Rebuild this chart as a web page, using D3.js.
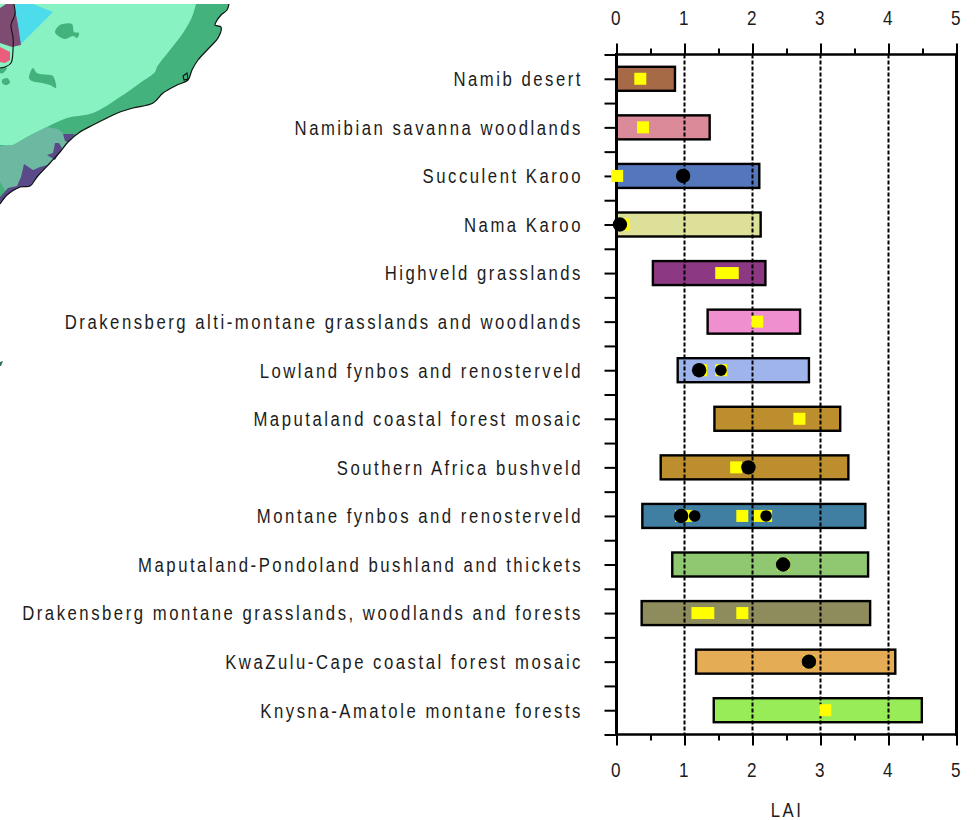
<!DOCTYPE html>
<html>
<head>
<meta charset="utf-8">
<script src="https://cdn.jsdelivr.net/npm/d3@7"></script>
<style>
  html, body { margin: 0; padding: 0; background: #fff; }
  svg { display: block; }
  text { font-family: "Liberation Sans", Arial, sans-serif; fill: #1c1c1c; }
</style>
</head>
<body>
<div id="chart"></div>
<script>
const categories = ["Namib desert", "Namibian savanna woodlands", "Succulent Karoo", "Nama Karoo",
  "Highveld grasslands", "Drakensberg alti-montane grasslands and woodlands", "Lowland fynbos and renosterveld",
  "Maputaland coastal forest mosaic", "Southern Africa bushveld", "Montane fynbos and renosterveld",
  "Maputaland-Pondoland bushland and thickets", "Drakensberg montane grasslands, woodlands and forests",
  "KwaZulu-Cape coastal forest mosaic", "Knysna-Amatole montane forests"];
const laiLow = [0, 0, 0, 0, 0.535, 1.34, 0.90, 1.44, 0.65, 0.38, 0.82, 0.37, 1.17, 1.43];
const laiHigh = [0.86, 1.37, 2.10, 2.12, 2.19, 2.70, 2.83, 3.29, 3.41, 3.66, 3.70, 3.73, 4.10, 4.49];
const barColors = ["#a66a46", "#da8a98", "#5477bc", "#dce098", "#8c3883", "#f08fd0", "#a0b4ec",
  "#bc8e2e", "#bc8e2e", "#407ea2", "#90c872", "#8e8c5c", "#e4ac54", "#98ec58"];

// [category, LAI]
const squares = [[0, 0.35], [1, 0.39], [2, 0.01], [3, 0.11], [4, 1.54], [4, 1.71], [5, 2.07], [6, 1.245], [6, 1.54],
  [7, 2.69], [8, 1.76], [9, 0.95], [9, 1.02], [9, 1.85], [9, 2.11], [9, 2.2], [10, 2.45], [11, 1.19], [11, 1.35],
  [11, 1.85], [12, 2.83], [13, 3.07]];
const bigDots = [[2, 0.98], [3, 0.05], [6, 1.215], [8, 1.94], [9, 0.95], [10, 2.45], [12, 2.83]];
const smallDots = [[6, 1.535], [9, 1.15], [9, 2.2]];

const xTicks = [0, 1, 2, 3, 4, 5];
const xMinorTicks = [0.5, 1.5, 2.5, 3.5, 4.5];
const gridTicks = [1, 2, 3, 4];

// map fragment in the top left corner
const coast = [[229,4],[227,10],[221,15],[216,22],[215,25],[221,27],[218,38],[210,47],[198,60],[192,70],[188,80],[177,85],
  [163,93],[153,103],[133,108],[120,112],[107,118],[93,125],[80,132],[68,142],[60,152],[50,163],[37,177],[30,186],
  [20,187],[7,195],[0,204]];
const mintEdge = [[196,4],[192,17],[183,33],[170,50],[157,67],[155,72],[140,83],[120,97],[93,113],[67,118],[47,127],
  [27,137],[13,145],[0,145]];
const tealArea = [[0,146],[13,145],[27,137],[47,127],[58,129],[65,135],[68,142],[60,152],[50,163],[37,177],[30,186],
  [20,187],[7,193],[5,190],[0,182]];
const purpleA = [[63,134],[75,134],[68,142],[65,141]];
const purpleB = [[55,143],[59,143],[62,148],[55,160],[47,155],[53,153]];
const purpleC = [[24,164],[33,170],[40,167],[48,165],[37,177],[30,186],[20,187],[7,195],[0,204],[0,197],[8,188],
  [17,186],[21,177]];
const cyanArea = [[15,4],[33,4],[53,12],[20,45],[17,23]];
const maroonArea = [[0,8],[6,4],[14,4],[18,25],[21,45],[12,47],[0,43]];
const pinkArea = [[0,47],[10,52],[10,60],[5,63],[0,62]];
const blobs = [
  [[55,32],[60,25],[72,24],[74,32],[79,33],[77,38],[73,36],[65,39],[57,35]],
  [[29,78],[33,68],[37,73],[50,75],[53,76],[56,88],[50,85],[42,83],[32,81]],
  [[2,80],[7,78],[10,82],[7,85],[3,84]],
  [[0,68],[7,68],[3,73],[0,73]]
];
const border = [[14,4],[15,14],[11,25],[13,37],[13,50],[11,63],[5,67],[0,68]];
const islet = [[183,76],[187,73],[188,79],[184,80]];
const leftSpeck = [[0,362],[3,361],[1,366],[0,366]];

const width = 978, height = 820;
const margin = { top: 54.5, right: 21.5, bottom: 85.5, left: 616.5 };
const narrow = 0.815;     // no narrow face installed, so squeeze the regular one

const svg = d3.select("#chart").append("svg")
  .attr("width", width)
  .attr("height", height)
  .attr("viewBox", [0, 0, width, height]);

// map
const openLine = d3.line().curve(d3.curveCatmullRom.alpha(0.5));
const closedLine = d3.line().curve(d3.curveLinearClosed);
const blobLine = d3.line().curve(d3.curveCatmullRomClosed.alpha(0.5));
const mapG = svg.append("g");

mapG.append("path").attr("fill", "#43b27c").attr("d", openLine(coast) + "L0,4Z");
mapG.append("path").attr("fill", "#88f2c2").attr("d", openLine(mintEdge) + "L0,4Z");
mapG.append("path").attr("fill", "#6db8a0").attr("d", closedLine(tealArea));
[[cyanArea, "#4ddcec"], [maroonArea, "#7e4c73"], [pinkArea, "#ec5c7b"], [purpleA, "#5a4a8a"], [purpleB, "#5a4a8a"],
 [purpleC, "#5a4a8a"], [leftSpeck, "#2f6f5f"]].forEach(([pts, c]) => {
  mapG.append("path").attr("fill", c).attr("d", closedLine(pts));
});
blobs.forEach(b => mapG.append("path").attr("fill", "#43b27c").attr("d", blobLine(b)));
mapG.append("path").attr("fill", "none").attr("stroke", "#111").attr("stroke-width", 1.2).attr("d", openLine(coast));
mapG.append("path").attr("fill", "none").attr("stroke", "#111").attr("stroke-width", 1.1).attr("d", openLine(border));
mapG.append("path").attr("fill", "none").attr("stroke", "#111").attr("stroke-width", 1.1).attr("d", closedLine(islet));

// scales
const x = d3.scaleLinear().domain([0, 5]).range([margin.left, width - margin.right]);
const yEdge = d3.scaleLinear().domain([0, categories.length]).range([margin.top, height - margin.bottom]);
const yCat = d3.scaleBand().domain(d3.range(categories.length)).range([margin.top, height - margin.bottom]);
const yMid = i => yCat(i) + yCat.bandwidth() / 2;
const barH = 24;

// bars
svg.append("g").selectAll("rect")
  .data(categories)
  .join("rect")
  .attr("x", (d, i) => x(laiLow[i]))
  .attr("y", (d, i) => yMid(i) - barH / 2)
  .attr("width", (d, i) => x(laiHigh[i]) - x(laiLow[i]))
  .attr("height", barH)
  .attr("fill", (d, i) => barColors[i])
  .attr("stroke", "#000")
  .attr("stroke-width", 2.4);

// dashed grid sits on top of the bars
svg.append("g").selectAll("line")
  .data(gridTicks)
  .join("line")
  .attr("x1", d => x(d)).attr("x2", d => x(d))
  .attr("y1", margin.top).attr("y2", height - margin.bottom)
  .attr("stroke", "#000")
  .attr("stroke-width", 2)
  .attr("stroke-dasharray", "4 2");

function styleAxis(g) {
  g.select(".domain").remove();
  g.selectAll("line").attr("stroke", "#000").attr("stroke-width", 2);
}

const labelFmt = d3.format("d");
[["top", d3.axisTop, margin.top], ["bottom", d3.axisBottom, height - margin.bottom]].forEach(([side, axis, py]) => {
  svg.append("g")
    .attr("transform", `translate(0,${py})`)
    .call(axis(x).tickValues(xTicks).tickFormat(labelFmt).tickSize(11).tickPadding(side === "top" ? 19 : 17))
    .call(styleAxis)
    .call(g => g.selectAll("text")
      .attr("font-size", 21)
      .attr("dx", -1.5)
      .attr("transform", `scale(${narrow},1)`)
      .style("fill", "#1c1c1c"));
  svg.append("g")
    .attr("transform", `translate(0,${py})`)
    .call(axis(x).tickValues(xMinorTicks).tickFormat("").tickSize(6))
    .call(styleAxis);
});

// left ticks on band edges and centres
svg.append("g")
  .attr("transform", `translate(${margin.left},0)`)
  .call(d3.axisLeft(yEdge).tickValues(d3.range(0, categories.length + 0.5, 0.5)).tickFormat("").tickSize(12))
  .call(styleAxis);

// frame
[[x(0), x(0), margin.top, height - margin.bottom], [x(5), x(5), margin.top, height - margin.bottom],
 [x(0), x(5), margin.top, margin.top], [x(0), x(5), height - margin.bottom, height - margin.bottom]].forEach((l, i) => {
  svg.append("line")
    .attr("x1", l[0]).attr("x2", l[1]).attr("y1", l[2]).attr("y2", l[3])
    .attr("stroke", "#000").attr("stroke-width", i < 2 ? 3 : 2.4).attr("stroke-linecap", "square");
});

// markers
svg.append("g").selectAll("rect")
  .data(squares)
  .join("rect")
  .attr("x", d => x(d[1]) - 6)
  .attr("y", d => yMid(d[0]) - 6)
  .attr("width", 12)
  .attr("height", 12)
  .attr("fill", "#ffff00");

svg.append("g").selectAll("circle")
  .data(bigDots)
  .join("circle")
  .attr("cx", d => x(d[1]))
  .attr("cy", d => yMid(d[0]))
  .attr("r", 7.2)
  .attr("fill", "#000");

svg.append("g").selectAll("circle")
  .data(smallDots)
  .join("circle")
  .attr("cx", d => x(d[1]))
  .attr("cy", d => yMid(d[0]))
  .attr("r", 5.8)
  .attr("fill", "#000");

// category labels
svg.append("g").selectAll("text")
  .data(categories)
  .join("text")
  .attr("transform", (d, i) => `translate(583,${yMid(i)}) scale(${narrow},1)`)
  .attr("dy", "0.36em")
  .attr("text-anchor", "end")
  .attr("font-size", 20.5)
  .attr("letter-spacing", 3.1)
  .text(d => d);

svg.append("text")
  .attr("transform", `translate(787,816.5) scale(${narrow},1)`)
  .attr("text-anchor", "middle")
  .attr("font-size", 20.5)
  .attr("letter-spacing", 3.1)
  .text("LAI");
</script>
</body>
</html>
